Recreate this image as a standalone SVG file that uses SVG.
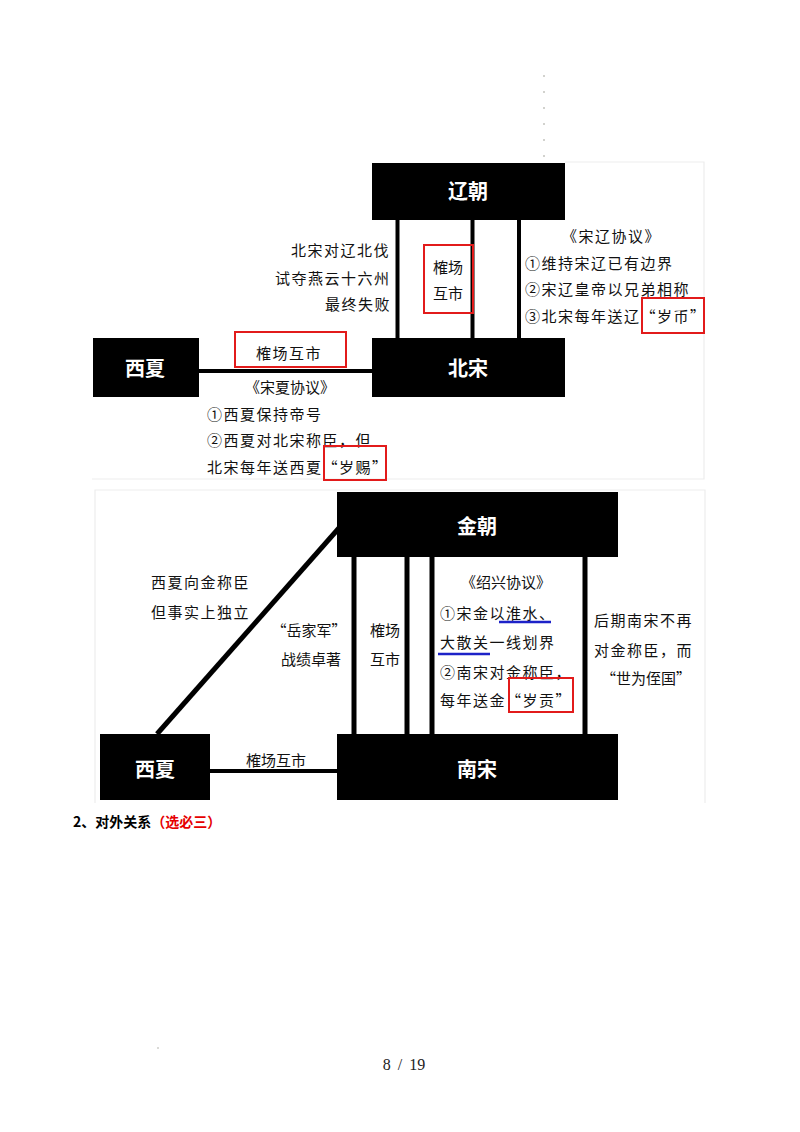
<svg xmlns="http://www.w3.org/2000/svg" width="800" height="1132" viewBox="0 0 800 1132">
<style>
.bg{fill:#ffffff}
.frame{fill:none;stroke:#ededed;stroke-width:1.2}
.node{fill:#000000}
.nl{font-family:"Noto Sans CJK SC","Noto Sans",sans-serif;font-size:20px;font-weight:bold;fill:#ffffff;text-anchor:middle}
.t{font-family:"Noto Sans CJK SC","Noto Sans",sans-serif;font-size:15px;fill:#111111;letter-spacing:1.5px}
.tm{font-family:"Noto Sans CJK SC","Noto Sans",sans-serif;font-size:15px;fill:#111111;text-anchor:middle}
.ln{stroke:#000000;fill:none}
.red{fill:none;stroke:#e21b1b;stroke-width:2}
.blue{stroke:#1d22c8;stroke-width:2.5;fill:none}
.dot{fill:#9a9a90}
.h{font-family:"Noto Sans CJK SC","Noto Sans",sans-serif;font-size:14px;font-weight:bold}
.foot{font-family:"Liberation Serif",serif;font-size:16px;fill:#222;text-anchor:middle;word-spacing:3px}
</style>
<rect class="bg" x="0" y="0" width="800" height="1132"/>

<!-- faint dotted marks -->
<g id="marks">
<circle class="dot" cx="544" cy="76" r="0.8"/>
<circle class="dot" cx="544" cy="92" r="0.8"/>
<circle class="dot" cx="544" cy="108" r="0.8"/>
<circle class="dot" cx="544" cy="124" r="0.8"/>
<circle class="dot" cx="544" cy="140" r="0.8"/>
<circle class="dot" cx="544" cy="156" r="0.8"/>
<circle class="dot" cx="158" cy="1048" r="0.7"/>
</g>

<!-- image frames -->
<g id="frames">
<path class="frame" d="M565 162 H704 V479 H92"/>
<path class="frame" d="M95 803 V490 H705 V803"/>
</g>

<!-- connectors -->
<g id="connectors">
<line class="ln" x1="397.5" y1="220" x2="397.5" y2="338" stroke-width="4"/>
<line class="ln" x1="472.5" y1="220" x2="472.5" y2="338" stroke-width="4"/>
<line class="ln" x1="519" y1="220" x2="519" y2="338" stroke-width="4"/>
<line class="ln" x1="199" y1="371" x2="372" y2="371" stroke-width="4"/>

<line class="ln" x1="157" y1="734" x2="339" y2="528" stroke-width="5"/>
<line class="ln" x1="210" y1="771" x2="337" y2="771" stroke-width="4"/>
<line class="ln" x1="354" y1="557" x2="354" y2="734" stroke-width="5"/>
<line class="ln" x1="407" y1="557" x2="407" y2="734" stroke-width="5"/>
<line class="ln" x1="432" y1="557" x2="432" y2="734" stroke-width="5"/>
<line class="ln" x1="585" y1="557" x2="585" y2="734" stroke-width="5"/>
</g>

<!-- top diagram nodes -->
<g id="liao">
<rect class="node" x="372" y="163" width="193" height="57"/>
<text class="nl" x="468" y="199">辽朝</text>
</g>
<g id="beisong">
<rect class="node" x="372" y="338" width="193" height="59"/>
<text class="nl" x="468" y="376">北宋</text>
</g>
<g id="xixia1">
<rect class="node" x="93" y="338" width="106" height="59"/>
<text class="nl" x="145" y="376">西夏</text>
</g>

<!-- top labels -->
<g id="label-beifa">
<text class="t" x="291" y="256">北宋对辽北伐</text>
<text class="t" x="275" y="284">试夺燕云十六州</text>
<text class="t" x="325" y="310">最终失败</text>
</g>
<g id="label-quechang1">
<rect class="red" x="424" y="245" width="49" height="68"/>
<text class="tm" x="448" y="273">榷场</text>
<text class="tm" x="448" y="299">互市</text>
</g>
<g id="label-songliao">
<text class="t" x="562" y="242">《宋辽协议》</text>
<text class="t" x="525" y="269">①维持宋辽已有边界</text>
<text class="t" x="525" y="295">②宋辽皇帝以兄弟相称</text>
<text class="t" x="525" y="322">③北宋每年送辽“岁币”</text>
<rect class="red" x="642" y="298" width="62" height="35"/>
</g>
<g id="label-quechang2">
<rect class="red" x="235" y="332" width="111" height="35"/>
<text class="t" x="256" y="359">榷场互市</text>
</g>
<g id="label-songxia">
<text class="tm" x="290" y="393">《宋夏协议》</text>
<text class="t" x="207" y="420">①西夏保持帝号</text>
<text class="t" x="207" y="446">②西夏对北宋称臣，但</text>
<text class="t" x="207" y="473">北宋每年送西夏“岁赐”</text>
<rect class="red" x="324" y="446" width="62" height="34"/>
</g>

<!-- bottom diagram nodes -->
<g id="jin">
<rect class="node" x="337" y="492" width="281" height="65"/>
<text class="nl" x="477" y="534">金朝</text>
</g>
<g id="nansong">
<rect class="node" x="337" y="734" width="281" height="66"/>
<text class="nl" x="477" y="777">南宋</text>
</g>
<g id="xixia2">
<rect class="node" x="100" y="734" width="110" height="66"/>
<text class="nl" x="155" y="777">西夏</text>
</g>

<!-- bottom labels -->
<g id="label-xixiajin">
<text class="t" x="151" y="588">西夏向金称臣</text>
<text class="t" x="151" y="618">但事实上独立</text>
</g>
<g id="label-yuejiajun">
<text class="tm" x="309" y="636">“岳家军”</text>
<text class="tm" x="311" y="665">战绩卓著</text>
</g>
<g id="label-quechang3">
<text class="tm" x="385" y="636">榷场</text>
<text class="tm" x="385" y="665">互市</text>
</g>
<g id="label-shaoxing">
<text class="tm" x="506" y="588">《绍兴协议》</text>
<text class="t" x="440" y="619">①宋金以淮水、</text>
<line class="blue" x1="499" y1="622" x2="551" y2="622"/>
<text class="t" x="440" y="648">大散关一线划界</text>
<line class="blue" x1="438" y1="654" x2="490" y2="654"/>
<text class="t" x="440" y="678">②南宋对金称臣，</text>
<text class="t" x="440" y="706">每年送金“岁贡”</text>
<rect class="red" x="509" y="678" width="64" height="34"/>
</g>
<g id="label-zhiguo">
<text class="t" x="594" y="626">后期南宋不再</text>
<text class="t" x="594" y="656">对金称臣，而</text>
<text class="tm" x="646" y="684">“世为侄国”</text>
</g>
<g id="label-quechang4">
<text class="tm" x="276" y="766">榷场互市</text>
</g>

<!-- heading and footer -->
<g id="heading">
<text class="h" x="73" y="827"><tspan fill="#000">2、对外关系</tspan><tspan fill="#e60000">（选必三）</tspan></text>
</g>
<g id="footer">
<text class="foot" x="404" y="1070">8 / 19</text>
</g>
</svg>
